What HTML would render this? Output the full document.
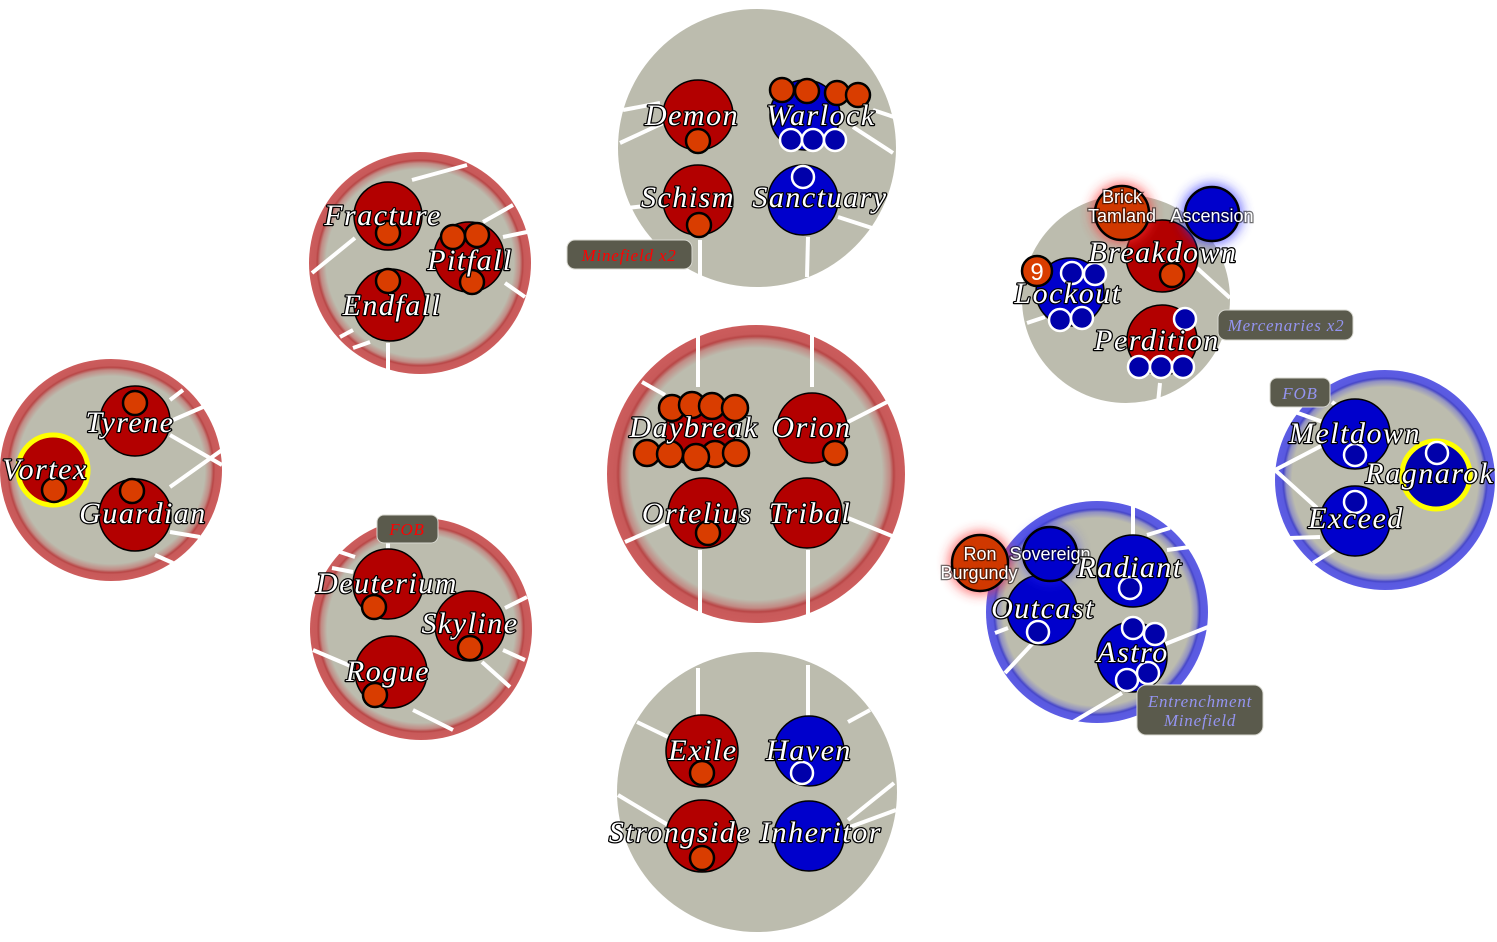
<!DOCTYPE html>
<html><head><meta charset="utf-8">
<style>
html,body{margin:0;padding:0;background:#fff;}
svg{display:block;}
.lbl{font-family:"Liberation Serif",serif;font-style:italic;font-size:30px;letter-spacing:1.5px;fill:#fff;stroke:#000;stroke-width:2.5px;paint-order:stroke;text-anchor:middle;stroke-linejoin:round;}
.nr{fill:#b30000;stroke:#000;stroke-width:1.5;}
.nb{fill:#0000cc;stroke:#000;stroke-width:1.5;}
.to{fill:#d93d00;stroke:#000;stroke-width:2.5;}
.tb{fill:#0000aa;stroke:#fff;stroke-width:2.5;}
.ln{stroke:#fff;stroke-width:4;fill:none;}
.box{fill:#5a5a4c;stroke:#d8d8d0;stroke-width:1;}
.bt{font-family:"Liberation Serif",serif;font-style:italic;font-size:17px;letter-spacing:0.8px;text-anchor:middle;}
.sans{font-family:"Liberation Sans",sans-serif;font-size:18px;fill:#fff;stroke:rgba(0,0,0,0.55);stroke-width:2.5px;paint-order:stroke;text-anchor:middle;}
</style></head>
<body>
<svg width="1497" height="942" viewBox="0 0 1497 942" xmlns="http://www.w3.org/2000/svg">
<defs>
<radialGradient id="rr" cx="50%" cy="50%" r="50%">
<stop offset="0" stop-color="#bcbcae"/>
<stop offset="0.845" stop-color="#bcbcae"/>
<stop offset="0.9" stop-color="#c28a84"/>
<stop offset="0.925" stop-color="#b84646"/>
<stop offset="0.94" stop-color="#c85a5a"/>
<stop offset="1" stop-color="#cc5c5c"/>
</radialGradient>
<radialGradient id="bb" cx="50%" cy="50%" r="50%">
<stop offset="0" stop-color="#bcbcae"/>
<stop offset="0.845" stop-color="#bcbcae"/>
<stop offset="0.9" stop-color="#9090c4"/>
<stop offset="0.925" stop-color="#4646c8"/>
<stop offset="0.94" stop-color="#5a5ae0"/>
<stop offset="1" stop-color="#5c5ce4"/>
</radialGradient>
<filter id="glow" x="-100%" y="-100%" width="300%" height="300%"><feGaussianBlur stdDeviation="6"/></filter>
</defs>

<!-- cluster backgrounds -->
<circle cx="757" cy="148" r="139" fill="#bcbcae"/>
<circle cx="420" cy="263" r="111" fill="url(#rr)"/>
<circle cx="111" cy="470" r="111" fill="url(#rr)"/>
<circle cx="756" cy="474" r="149" fill="url(#rr)"/>
<circle cx="1126" cy="299" r="104" fill="#bcbcae"/>
<circle cx="1385" cy="480" r="110" fill="url(#bb)"/>
<circle cx="1097" cy="612" r="111" fill="url(#bb)"/>
<circle cx="757" cy="792" r="140" fill="#bcbcae"/>
<circle cx="421" cy="629" r="111" fill="url(#rr)"/>

<!-- connector lines -->
<g class="ln">
<!-- top -->
<line x1="623" y1="110" x2="660" y2="103"/>
<line x1="620" y1="143" x2="663" y2="123"/>
<line x1="627" y1="208" x2="645" y2="206"/>
<line x1="700" y1="240" x2="700" y2="277"/>
<line x1="808" y1="237" x2="807" y2="277"/>
<line x1="838" y1="217" x2="872" y2="228"/>
<line x1="853" y1="127" x2="893" y2="153"/>
<line x1="873" y1="110" x2="894" y2="117"/>
<!-- UL -->
<line x1="412" y1="180" x2="467" y2="165"/>
<line x1="355" y1="238" x2="312" y2="273"/>
<line x1="483" y1="222" x2="513" y2="205"/>
<line x1="503" y1="237" x2="527" y2="232"/>
<line x1="505" y1="283" x2="525" y2="297"/>
<line x1="353" y1="330" x2="340" y2="337"/>
<line x1="370" y1="342" x2="353" y2="348"/>
<line x1="388" y1="343" x2="388" y2="370"/>
<!-- L -->
<line x1="170" y1="400" x2="183" y2="390"/>
<line x1="173" y1="420" x2="203" y2="407"/>
<line x1="170" y1="435" x2="222" y2="465"/>
<line x1="170" y1="487" x2="222" y2="450"/>
<line x1="170" y1="532" x2="200" y2="537"/>
<line x1="155" y1="555" x2="173" y2="563"/>
<!-- C -->
<line x1="698" y1="328" x2="698" y2="387"/>
<line x1="812" y1="328" x2="812" y2="387"/>
<line x1="642" y1="382" x2="665" y2="395"/>
<line x1="848" y1="422" x2="889" y2="401"/>
<line x1="848" y1="518" x2="892" y2="536"/>
<line x1="625" y1="542" x2="668" y2="523"/>
<line x1="700" y1="550" x2="700" y2="622"/>
<line x1="808" y1="550" x2="808" y2="616"/>
<!-- UR -->
<line x1="1197" y1="268" x2="1230" y2="298"/>
<line x1="1027" y1="323" x2="1045" y2="317"/>
<line x1="1160" y1="383" x2="1158" y2="403"/>
<!-- R -->
<line x1="1295" y1="412" x2="1323" y2="422"/>
<line x1="1332" y1="402" x2="1340" y2="408"/>
<line x1="1275" y1="470" x2="1323" y2="445"/>
<line x1="1275" y1="470" x2="1317" y2="508"/>
<line x1="1290" y1="538" x2="1320" y2="537"/>
<line x1="1313" y1="563" x2="1337" y2="548"/>
<!-- LR -->
<line x1="1133" y1="505" x2="1133" y2="535"/>
<line x1="1147" y1="535" x2="1170" y2="528"/>
<line x1="1167" y1="550" x2="1190" y2="547"/>
<line x1="995" y1="633" x2="1008" y2="628"/>
<line x1="1033" y1="643" x2="1005" y2="673"/>
<line x1="1163" y1="645" x2="1208" y2="627"/>
<line x1="1122" y1="693" x2="1073" y2="722"/>
<!-- B -->
<line x1="698" y1="668" x2="698" y2="717"/>
<line x1="808" y1="665" x2="808" y2="717"/>
<line x1="637" y1="722" x2="668" y2="737"/>
<line x1="848" y1="722" x2="870" y2="710"/>
<line x1="618" y1="795" x2="668" y2="825"/>
<line x1="848" y1="820" x2="894" y2="783"/>
<line x1="850" y1="827" x2="896" y2="810"/>
<!-- LL -->
<line x1="340" y1="552" x2="355" y2="557"/>
<line x1="332" y1="568" x2="353" y2="572"/>
<line x1="505" y1="608" x2="527" y2="597"/>
<line x1="503" y1="650" x2="525" y2="660"/>
<line x1="482" y1="662" x2="510" y2="687"/>
<line x1="313" y1="650" x2="353" y2="667"/>
<line x1="413" y1="710" x2="453" y2="730"/>
<line x1="388" y1="540" x2="388" y2="550"/>
</g>

<!-- ===== TOP cluster ===== -->
<circle class="nr" cx="698" cy="115" r="35"/>
<circle class="to" cx="698" cy="141" r="12"/>
<circle class="nb" cx="805" cy="115" r="35"/>
<circle class="to" cx="782" cy="90" r="12"/>
<circle class="to" cx="807" cy="91" r="12"/>
<circle class="to" cx="837" cy="93" r="12"/>
<circle class="to" cx="858" cy="95" r="12"/>
<circle class="tb" cx="791" cy="140" r="11"/>
<circle class="tb" cx="813" cy="140" r="11"/>
<circle class="tb" cx="835" cy="140" r="11"/>
<circle class="nr" cx="698" cy="200" r="35"/>
<circle class="to" cx="699" cy="225" r="12"/>
<circle class="nb" cx="803" cy="200" r="35"/>
<circle class="tb" cx="803" cy="177" r="11"/>
<text class="lbl" x="692" y="125">Demon</text>
<text class="lbl" x="821" y="125">Warlock</text>
<text class="lbl" x="688" y="207">Schism</text>
<text class="lbl" x="820" y="207">Sanctuary</text>

<!-- ===== UL cluster ===== -->
<circle class="nr" cx="388" cy="216" r="34"/>
<circle class="to" cx="388" cy="233" r="12"/>
<circle class="nr" cx="469" cy="257" r="35"/>
<circle class="to" cx="453" cy="237" r="12"/>
<circle class="to" cx="477" cy="235" r="12"/>
<circle class="to" cx="472" cy="282" r="12"/>
<circle class="nr" cx="390" cy="305" r="36"/>
<circle class="to" cx="388" cy="281" r="12"/>
<text class="lbl" x="383" y="225">Fracture</text>
<text class="lbl" x="470" y="270">Pitfall</text>
<text class="lbl" x="392" y="315">Endfall</text>

<!-- ===== L cluster ===== -->
<circle class="nr" cx="135" cy="421" r="35"/>
<circle class="to" cx="135" cy="403" r="12"/>
<circle cx="53" cy="470" r="35" fill="#b30000" stroke="#ffff00" stroke-width="5"/>
<circle class="to" cx="54" cy="490" r="12"/>
<circle class="nr" cx="135" cy="515" r="36"/>
<circle class="to" cx="132" cy="491" r="12"/>
<text class="lbl" x="130" y="432">Tyrene</text>
<text class="lbl" x="45" y="479">Vortex</text>
<text class="lbl" x="143" y="523">Guardian</text>

<!-- ===== Center cluster ===== -->
<circle class="nr" cx="700" cy="432" r="35"/>
<circle class="to" cx="672" cy="408" r="13"/>
<circle class="to" cx="692" cy="405" r="13"/>
<circle class="to" cx="712" cy="406" r="13"/>
<circle class="to" cx="735" cy="408" r="13"/>
<circle class="to" cx="647" cy="453" r="13"/>
<circle class="to" cx="670" cy="454" r="13"/>
<circle class="to" cx="715" cy="454" r="13"/>
<circle class="to" cx="736" cy="453" r="13"/>
<circle class="to" cx="696" cy="457" r="13"/>
<circle class="nr" cx="812" cy="428" r="35"/>
<circle class="to" cx="835" cy="453" r="12"/>
<circle class="nr" cx="703" cy="513" r="35"/>
<circle class="to" cx="708" cy="533" r="12"/>
<circle class="nr" cx="807" cy="513" r="35"/>
<text class="lbl" x="694" y="437">Daybreak</text>
<text class="lbl" x="812" y="437">Orion</text>
<text class="lbl" x="697" y="523">Ortelius</text>
<text class="lbl" x="810" y="523">Tribal</text>

<!-- ===== UR cluster ===== -->
<circle class="nr" cx="1162" cy="256" r="36"/>
<circle class="to" cx="1172" cy="275" r="12"/>
<circle class="nb" cx="1070" cy="292" r="34"/>
<circle class="tb" cx="1072" cy="273" r="11"/>
<circle class="tb" cx="1095" cy="274" r="11"/>
<circle class="tb" cx="1060" cy="320" r="11"/>
<circle class="tb" cx="1082" cy="318" r="11"/>
<circle class="nr" cx="1162" cy="340" r="35"/>
<circle class="tb" cx="1185" cy="319" r="11"/>
<circle class="tb" cx="1139" cy="367" r="11"/>
<circle class="tb" cx="1161" cy="367" r="11"/>
<circle class="tb" cx="1183" cy="367" r="11"/>
<!-- glows -->
<circle cx="1122" cy="213" r="30" fill="#ff3030" opacity="0.75" filter="url(#glow)"/>
<circle cx="1212" cy="214" r="30" fill="#3030ff" opacity="0.75" filter="url(#glow)"/>
<circle cx="1122" cy="213" r="27" fill="#d03800" stroke="#000" stroke-width="2.5"/>
<circle cx="1212" cy="214" r="27" fill="#0000cc" stroke="#000" stroke-width="2.5"/>
<text class="sans" x="1122" y="203">Brick</text>
<text class="sans" x="1122" y="222">Tamland</text>
<text class="sans" x="1212" y="222">Ascension</text>
<circle cx="1037" cy="271" r="15" fill="#d93d00" stroke="#000" stroke-width="2.5"/>
<text x="1037" y="280" style="font-family:'Liberation Sans',sans-serif;font-size:24px;fill:#fff;text-anchor:middle;">9</text>
<text class="lbl" x="1163" y="262">Breakdown</text>
<text class="lbl" x="1068" y="303">Lockout</text>
<text class="lbl" x="1157" y="350">Perdition</text>

<!-- ===== R cluster ===== -->
<circle class="nb" cx="1355" cy="434" r="35"/>
<circle class="tb" cx="1355" cy="455" r="11"/>
<circle cx="1436" cy="475" r="34" fill="#0000b0" stroke="#ffff00" stroke-width="5"/>
<circle class="tb" cx="1437" cy="453" r="11"/>
<circle class="nb" cx="1355" cy="521" r="35"/>
<circle class="tb" cx="1355" cy="502" r="11"/>
<text class="lbl" x="1355" y="443">Meltdown</text>
<text class="lbl" x="1430" y="483">Ragnarok</text>
<text class="lbl" x="1356" y="528">Exceed</text>

<!-- ===== LR cluster ===== -->
<circle class="nb" cx="1133" cy="571" r="36"/>
<circle class="tb" cx="1130" cy="588" r="11"/>
<circle class="nb" cx="1042" cy="610" r="35"/>
<circle class="tb" cx="1038" cy="632" r="11"/>
<circle class="nb" cx="1132" cy="657" r="35"/>
<circle class="tb" cx="1133" cy="628" r="11"/>
<circle class="tb" cx="1155" cy="634" r="11"/>
<circle class="tb" cx="1148" cy="673" r="11"/>
<circle class="tb" cx="1127" cy="680" r="11"/>
<circle cx="980" cy="563" r="31" fill="#ff3030" opacity="0.75" filter="url(#glow)"/>
<circle cx="1050" cy="554" r="29" fill="#3030ff" opacity="0.5" filter="url(#glow)"/>
<circle cx="980" cy="563" r="28" fill="#d03800" stroke="#000" stroke-width="2.5"/>
<circle cx="1050" cy="554" r="27" fill="#0000cc" stroke="#000" stroke-width="2.5"/>
<text class="sans" x="980" y="560">Ron</text>
<text class="sans" x="979" y="579">Burgundy</text>
<text class="sans" x="1050" y="560">Sovereign</text>
<text class="lbl" x="1130" y="577">Radiant</text>
<text class="lbl" x="1043" y="618">Outcast</text>
<text class="lbl" x="1133" y="662">Astro</text>

<!-- ===== Bottom cluster ===== -->
<circle class="nr" cx="702" cy="751" r="36"/>
<circle class="to" cx="702" cy="773" r="12"/>
<circle class="nb" cx="809" cy="751" r="35"/>
<circle class="tb" cx="802" cy="773" r="11"/>
<circle class="nr" cx="702" cy="836" r="36"/>
<circle class="to" cx="702" cy="858" r="12"/>
<circle class="nb" cx="809" cy="836" r="35"/>
<text class="lbl" x="703" y="760">Exile</text>
<text class="lbl" x="809" y="760">Haven</text>
<text class="lbl" x="680" y="842">Strongside</text>
<text class="lbl" x="821" y="842">Inheritor</text>

<!-- ===== LL cluster ===== -->
<circle class="nr" cx="388" cy="584" r="35"/>
<circle class="to" cx="374" cy="607" r="12"/>
<circle class="nr" cx="470" cy="626" r="35"/>
<circle class="to" cx="470" cy="648" r="12"/>
<circle class="nr" cx="391" cy="672" r="36"/>
<circle class="to" cx="375" cy="695" r="12"/>
<text class="lbl" x="387" y="593">Deuterium</text>
<text class="lbl" x="470" y="633">Skyline</text>
<text class="lbl" x="388" y="681">Rogue</text>

<!-- ===== label boxes ===== -->
<rect class="box" x="567" y="240" width="125" height="29" rx="8"/>
<text class="bt" x="629" y="261" fill="#ff0000">Minefield x2</text>
<rect class="box" x="1218" y="310" width="135" height="30" rx="8"/>
<text class="bt" x="1286" y="331" fill="#9494f0">Mercenaries x2</text>
<rect class="box" x="1270" y="378" width="60" height="29" rx="7"/>
<text class="bt" x="1300" y="399" fill="#9494f0">FOB</text>
<rect class="box" x="377" y="515" width="61" height="28" rx="7"/>
<text class="bt" x="407" y="535" fill="#ff0000">FOB</text>
<rect class="box" x="1137" y="685" width="126" height="50" rx="9"/>
<text class="bt" x="1200" y="707" fill="#9494f0">Entrenchment</text>
<text class="bt" x="1200" y="726" fill="#9494f0">Minefield</text>
</svg>
</body></html>
